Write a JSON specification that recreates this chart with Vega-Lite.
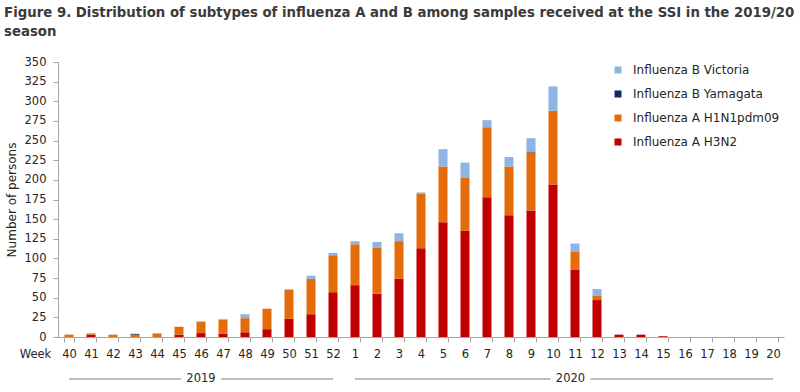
{
  "$schema": "https://vega.github.io/schema/vega-lite/v6.json",
  "padding": {"left": 4, "top": 6, "right": 0, "bottom": 0},
  "background": "white",
  "title": {
    "text": ["Figure 9. Distribution of subtypes of influenza A and B among samples received at the SSI in the 2019/20", "season"],
    "anchor": "start",
    "frame": "bounds",
    "dx": -1,
    "font": "DejaVu Sans",
    "fontSize": 13.3,
    "fontWeight": "bold",
    "color": "#3a3a3a",
    "lineHeight": 18.5,
    "offset": 18
  },
  "config": {
    "view": {"stroke": null},
    "font": "DejaVu Sans"
  },
  "spacing": 12,
  "datasets": {
    "flu": [
      {"week": "40", "subtype": "Influenza A H1N1pdm09", "count": 3},
      {"week": "41", "subtype": "Influenza A H3N2", "count": 3},
      {"week": "41", "subtype": "Influenza A H1N1pdm09", "count": 1},
      {"week": "41", "subtype": "Influenza B Victoria", "count": 1},
      {"week": "42", "subtype": "Influenza A H1N1pdm09", "count": 3},
      {"week": "43", "subtype": "Influenza A H1N1pdm09", "count": 3},
      {"week": "43", "subtype": "Influenza B Yamagata", "count": 1},
      {"week": "44", "subtype": "Influenza A H1N1pdm09", "count": 4},
      {"week": "44", "subtype": "Influenza B Victoria", "count": 1},
      {"week": "45", "subtype": "Influenza A H3N2", "count": 3},
      {"week": "45", "subtype": "Influenza A H1N1pdm09", "count": 10},
      {"week": "46", "subtype": "Influenza A H3N2", "count": 5},
      {"week": "46", "subtype": "Influenza A H1N1pdm09", "count": 14},
      {"week": "46", "subtype": "Influenza B Victoria", "count": 1},
      {"week": "47", "subtype": "Influenza A H3N2", "count": 4},
      {"week": "47", "subtype": "Influenza A H1N1pdm09", "count": 18},
      {"week": "47", "subtype": "Influenza B Victoria", "count": 1},
      {"week": "48", "subtype": "Influenza A H3N2", "count": 6},
      {"week": "48", "subtype": "Influenza A H1N1pdm09", "count": 18},
      {"week": "48", "subtype": "Influenza B Victoria", "count": 5},
      {"week": "49", "subtype": "Influenza A H3N2", "count": 10},
      {"week": "49", "subtype": "Influenza A H1N1pdm09", "count": 26},
      {"week": "50", "subtype": "Influenza A H3N2", "count": 23},
      {"week": "50", "subtype": "Influenza A H1N1pdm09", "count": 37},
      {"week": "50", "subtype": "Influenza B Victoria", "count": 1},
      {"week": "51", "subtype": "Influenza A H3N2", "count": 29},
      {"week": "51", "subtype": "Influenza A H1N1pdm09", "count": 45},
      {"week": "51", "subtype": "Influenza B Victoria", "count": 4},
      {"week": "52", "subtype": "Influenza A H3N2", "count": 57},
      {"week": "52", "subtype": "Influenza A H1N1pdm09", "count": 47},
      {"week": "52", "subtype": "Influenza B Victoria", "count": 3},
      {"week": "1", "subtype": "Influenza A H3N2", "count": 66},
      {"week": "1", "subtype": "Influenza A H1N1pdm09", "count": 52},
      {"week": "1", "subtype": "Influenza B Victoria", "count": 4},
      {"week": "2", "subtype": "Influenza A H3N2", "count": 55},
      {"week": "2", "subtype": "Influenza A H1N1pdm09", "count": 59},
      {"week": "2", "subtype": "Influenza B Victoria", "count": 7},
      {"week": "3", "subtype": "Influenza A H3N2", "count": 74},
      {"week": "3", "subtype": "Influenza A H1N1pdm09", "count": 48},
      {"week": "3", "subtype": "Influenza B Victoria", "count": 10},
      {"week": "4", "subtype": "Influenza A H3N2", "count": 113},
      {"week": "4", "subtype": "Influenza A H1N1pdm09", "count": 69},
      {"week": "4", "subtype": "Influenza B Victoria", "count": 2},
      {"week": "5", "subtype": "Influenza A H3N2", "count": 146},
      {"week": "5", "subtype": "Influenza A H1N1pdm09", "count": 71},
      {"week": "5", "subtype": "Influenza B Victoria", "count": 22},
      {"week": "6", "subtype": "Influenza A H3N2", "count": 135},
      {"week": "6", "subtype": "Influenza A H1N1pdm09", "count": 68},
      {"week": "6", "subtype": "Influenza B Victoria", "count": 19},
      {"week": "7", "subtype": "Influenza A H3N2", "count": 178},
      {"week": "7", "subtype": "Influenza A H1N1pdm09", "count": 89},
      {"week": "7", "subtype": "Influenza B Victoria", "count": 9},
      {"week": "8", "subtype": "Influenza A H3N2", "count": 155},
      {"week": "8", "subtype": "Influenza A H1N1pdm09", "count": 62},
      {"week": "8", "subtype": "Influenza B Victoria", "count": 12},
      {"week": "9", "subtype": "Influenza A H3N2", "count": 161},
      {"week": "9", "subtype": "Influenza A H1N1pdm09", "count": 74},
      {"week": "9", "subtype": "Influenza B Yamagata", "count": 1},
      {"week": "9", "subtype": "Influenza B Victoria", "count": 17},
      {"week": "10", "subtype": "Influenza A H3N2", "count": 194},
      {"week": "10", "subtype": "Influenza A H1N1pdm09", "count": 94},
      {"week": "10", "subtype": "Influenza B Victoria", "count": 31},
      {"week": "11", "subtype": "Influenza A H3N2", "count": 86},
      {"week": "11", "subtype": "Influenza A H1N1pdm09", "count": 23},
      {"week": "11", "subtype": "Influenza B Victoria", "count": 10},
      {"week": "12", "subtype": "Influenza A H3N2", "count": 47},
      {"week": "12", "subtype": "Influenza A H1N1pdm09", "count": 6},
      {"week": "12", "subtype": "Influenza B Victoria", "count": 8},
      {"week": "13", "subtype": "Influenza A H3N2", "count": 3},
      {"week": "14", "subtype": "Influenza A H3N2", "count": 3},
      {"week": "15", "subtype": "Influenza A H3N2", "count": 1}
    ],
    "years": [
      {"year": "2019", "from": "40", "to": "52", "lane": "y"},
      {"year": "2020", "from": "1", "to": "20", "lane": "y"}
    ]
  },
  "vconcat": [
    {
      "width": 726,
      "height": 275,
      "data": {"name": "flu"},
      "transform": [
        {"calculate": "indexof(['Influenza A H3N2', 'Influenza A H1N1pdm09', 'Influenza B Yamagata', 'Influenza B Victoria'], datum.subtype)", "as": "stackOrder"}
      ],
      "mark": {"type": "bar"},
      "encoding": {
        "x": {
          "field": "week",
          "type": "ordinal",
          "scale": {
            "domain": ["40","41","42","43","44","45","46","47","48","49","50","51","52","1","2","3","4","5","6","7","8","9","10","11","12","13","14","15","16","17","18","19","20"],
            "paddingInner": 0.59,
            "paddingOuter": 0.295
          },
          "axis": {
            "title": "Week",
            "labelAngle": 0,
            "tickBand": "extent",
            "domainColor": "#a6a6a6",
            "tickColor": "#a6a6a6",
            "tickSize": 5,
            "labelPadding": 6,
            "labelFontSize": 11.5,
            "labelColor": "#262626",
            "titleX": -23,
            "titleY": 17,
            "titleAlign": "center",
            "titleBaseline": "middle",
            "titleFontWeight": "normal",
            "titleFontSize": 11.5,
            "titleColor": "#262626"
          }
        },
        "y": {
          "field": "count",
          "type": "quantitative",
          "scale": {"domain": [0, 350], "nice": false},
          "axis": {
            "values": [0,25,50,75,100,125,150,175,200,225,250,275,300,325,350],
            "title": "Number of persons",
            "grid": false,
            "domainColor": "#a6a6a6",
            "tickColor": "#a6a6a6",
            "tickSize": 5,
            "labelPadding": 7,
            "labelFontSize": 11.5,
            "labelColor": "#262626",
            "titleFontWeight": "normal",
            "titleFontSize": 12,
            "titleColor": "#262626",
            "titlePadding": 6
          }
        },
        "order": {"field": "stackOrder", "type": "quantitative", "sort": "ascending"},
        "color": {
          "field": "subtype",
          "type": "nominal",
          "scale": {
            "domain": ["Influenza B Victoria", "Influenza B Yamagata", "Influenza A H1N1pdm09", "Influenza A H3N2"],
            "range": ["#8EB4E3", "#0F2A5F", "#E46C0A", "#C00000"]
          },
          "legend": {
            "title": null,
            "orient": "none",
            "legendX": 554,
            "legendY": 2,
            "padding": 0,
            "symbolType": "square",
            "symbolSize": 49,
            "symbolStrokeWidth": 0,
            "labelOffset": 9,
            "labelFontSize": 12,
            "labelColor": "#262626",
            "rowPadding": 12
          }
        }
      }
    },
    {
      "width": 726,
      "height": 14,
      "data": {"name": "years"},
      "encoding": {
        "y": {"field": "lane", "type": "nominal", "axis": null}
      },
      "layer": [
        {
          "mark": {"type": "rule", "color": "#7f7f7f", "strokeWidth": 1},
          "encoding": {
            "x": {
              "field": "from",
              "type": "ordinal",
              "scale": {
                "domain": ["40","41","42","43","44","45","46","47","48","49","50","51","52","1","2","3","4","5","6","7","8","9","10","11","12","13","14","15","16","17","18","19","20"],
                "paddingInner": 0.59,
                "paddingOuter": 0.295
              },
              "axis": null
            },
            "x2": {"field": "to"}
          }
        },
        {
          "transform": [{"filter": "datum.year === '2019'"}],
          "mark": {"type": "text", "fontSize": 11.5, "stroke": "white", "strokeWidth": 12, "color": "white"},
          "encoding": {
            "x": {"datum": "46", "type": "ordinal"},
            "text": {"field": "year"}
          }
        },
        {
          "transform": [{"filter": "datum.year === '2020'"}],
          "mark": {"type": "text", "fontSize": 11.5, "stroke": "white", "strokeWidth": 12, "color": "white"},
          "encoding": {
            "x": {"datum": "11", "type": "ordinal", "bandPosition": 0},
            "text": {"field": "year"}
          }
        },
        {
          "transform": [{"filter": "datum.year === '2019'"}],
          "mark": {"type": "text", "fontSize": 11.5, "color": "#262626"},
          "encoding": {
            "x": {"datum": "46", "type": "ordinal"},
            "text": {"field": "year"}
          }
        },
        {
          "transform": [{"filter": "datum.year === '2020'"}],
          "mark": {"type": "text", "fontSize": 11.5, "color": "#262626"},
          "encoding": {
            "x": {"datum": "11", "type": "ordinal", "bandPosition": 0},
            "text": {"field": "year"}
          }
        }
      ]
    }
  ]
}
